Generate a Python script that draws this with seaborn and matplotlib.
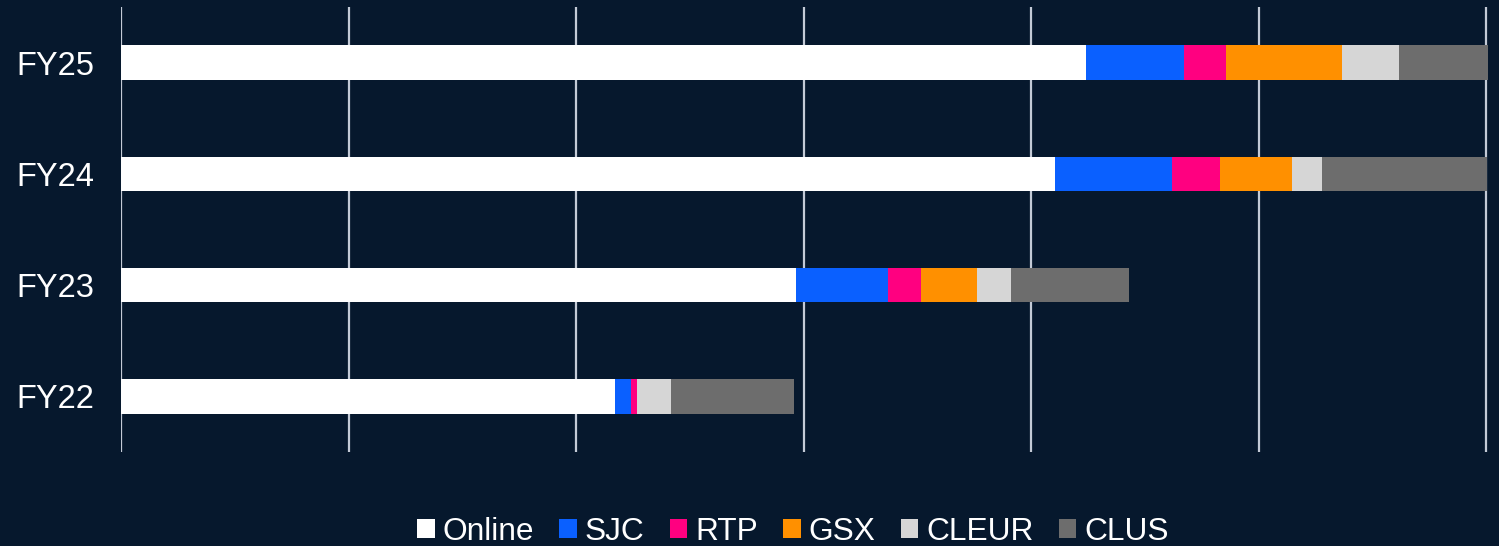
import pandas as pd
import seaborn as sns
import matplotlib.pyplot as plt
from matplotlib.patches import Patch

# Data (grid step = 10000)
years = ["FY25", "FY24", "FY23", "FY22"]
online = [42420, 41050, 29670, 21710]
sjc = [4290, 5140, 4040, 700]
rtp = [1850, 2110, 1450, 260]
gsx = [5110, 3160, 2460, 0]
cleur = [2510, 1320, 1490, 1490]
clus = [3900, 7280, 5190, 5410]

series = ["Online", "SJC", "RTP", "GSX", "CLEUR", "CLUS"]
colors = ["#ffffff", "#0a60ff", "#ff0080", "#ff9000", "#d6d6d6", "#6d6d6d"]
bg = "#06182d"

df = pd.DataFrame({"Year": years, "Online": online, "SJC": sjc, "RTP": rtp,
                   "GSX": gsx, "CLEUR": cleur, "CLUS": clus})
# cumulative totals so bars can be overlaid largest first
cum = df[series].cumsum(axis=1)
cum["Year"] = df["Year"]

sns.set_theme(style="dark")
plt.rcParams["font.family"] = ["Liberation Sans", "DejaVu Sans"]

fig = plt.figure(figsize=(14.99, 5.46), dpi=100, facecolor=bg)
ax = fig.add_axes([121 / 1499, 1 - 452 / 546, 1 - 121 / 1499, 445 / 546])
ax.set_facecolor(bg)

for name, col in reversed(list(zip(series, colors))):
    sns.barplot(data=cum, y="Year", x=name, order=years, color=col,
                width=0.31, saturation=1, ax=ax, zorder=3, edgecolor="none")

ax.set_xlim(0, 60570)
ax.set_ylim(3.5, -0.5)
ax.set_xticks(range(0, 60001, 10000))
ax.set_xticklabels([])
ax.grid(axis="x", color="#c3cad6", linewidth=1.6, zorder=1)
ax.grid(axis="y", visible=False)
for s in ax.spines.values():
    s.set_visible(False)
ax.set_xlabel("")
ax.set_ylabel("")
ax.tick_params(axis="y", length=0, pad=19, labelsize=23.5, labelcolor="white")
ax.tick_params(axis="x", length=0)

handles = [Patch(facecolor=c, edgecolor="none", label=n) for n, c in zip(series, colors)]
fig.legend(handles=handles, loc="center", bbox_to_anchor=(793 / 1499, 1 - 532 / 546),
           ncol=6, frameon=False, fontsize=22.8, labelcolor="white",
           handlelength=0.55, handleheight=0.55, handletextpad=0.25, columnspacing=0.8,
           borderpad=0, borderaxespad=0)

fig.savefig("out.png", dpi=100, facecolor=bg)
